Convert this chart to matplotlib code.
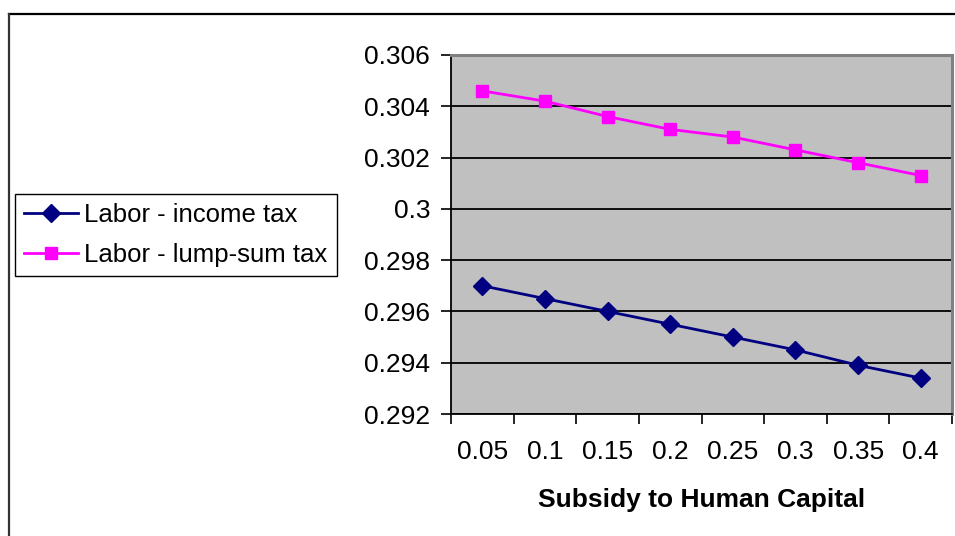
import matplotlib
matplotlib.use("Agg")
import matplotlib.pyplot as plt
from matplotlib.lines import Line2D
from matplotlib.ticker import FixedLocator, FuncFormatter

# ── data ────────────────────────────────────────────────────────
subsidy = ["0.05", "0.1", "0.15", "0.2", "0.25", "0.3", "0.35", "0.4"]
labor_income_tax = [0.2970, 0.2965, 0.2960, 0.2955, 0.2950, 0.2945, 0.2939, 0.2934]
labor_lump_sum_tax = [0.3046, 0.3042, 0.3036, 0.3031, 0.3028, 0.3023, 0.3018, 0.3013]
y_ticks = [0.292, 0.294, 0.296, 0.298, 0.300, 0.302, 0.304, 0.306]

plt.rcParams["font.family"] = ["Liberation Sans", "DejaVu Sans"]
FS = 19

fig = plt.figure(figsize=(9.55, 5.36), dpi=100)
ax = fig.add_axes([0.4723, 0.2276, 0.5246, 0.6698])
ax.set_facecolor("#C0C0C0")

x = list(range(len(subsidy)))
ax.plot(x, labor_income_tax, color="#000080", lw=2.0, marker="D", ms=9,
        label="Labor - income tax", zorder=3)
ax.plot(x, labor_lump_sum_tax, color="#FF00FF", lw=2.0, marker="s", ms=8.5,
        label="Labor - lump-sum tax", zorder=3)

# axes / ticks (Excel-like category axis)
ax.set_xlim(-0.5, len(subsidy) - 0.5)
ax.set_ylim(y_ticks[0], y_ticks[-1])
ax.set_yticks(y_ticks)
ax.yaxis.set_major_formatter(FuncFormatter(lambda v, p: f"{round(v, 3):g}"))
ax.grid(axis="y", color="black", lw=1.3)
ax.set_axisbelow(True)

ax.xaxis.set_major_locator(FixedLocator([i - 0.5 for i in range(len(subsidy) + 1)]))
ax.xaxis.set_minor_locator(FixedLocator(x))
ax.set_xticklabels([""] * (len(subsidy) + 1))
ax.set_xticklabels(subsidy, minor=True)
ax.tick_params(axis="x", which="major", length=7, width=1.2, direction="out")
ax.tick_params(axis="x", which="minor", length=0, pad=19, labelsize=FS)
ax.tick_params(axis="y", length=7, width=1.2, direction="out", pad=8, labelsize=FS)

ax.set_xlabel("Subsidy to Human Capital", fontsize=FS, fontweight="bold", labelpad=17)

for side in ("left", "bottom"):
    ax.spines[side].set_color("black")
    ax.spines[side].set_linewidth(1.3)
for side in ("top", "right"):
    ax.spines[side].set_color("#808080")
    ax.spines[side].set_linewidth(2.2)

leg = fig.legend(loc="center left", bbox_to_anchor=(0.0157, 0.5616), fontsize=18.5,
                 frameon=True, fancybox=False, edgecolor="black", framealpha=1,
                 handlelength=2.1, handletextpad=0.25, borderpad=0.35,
                 labelspacing=0.6, borderaxespad=0)
leg.get_frame().set_linewidth(1.0)

# chart-area border (top and left edges visible)
fig.add_artist(Line2D([9 / 955, 1.0], [1 - 13.5 / 536] * 2, color="black", lw=1.6,
                      transform=fig.transFigure))
fig.add_artist(Line2D([9 / 955] * 2, [0.0, 1 - 13.5 / 536], color="#333333", lw=1.6,
                      transform=fig.transFigure))

fig.savefig("out.png", dpi=100)
